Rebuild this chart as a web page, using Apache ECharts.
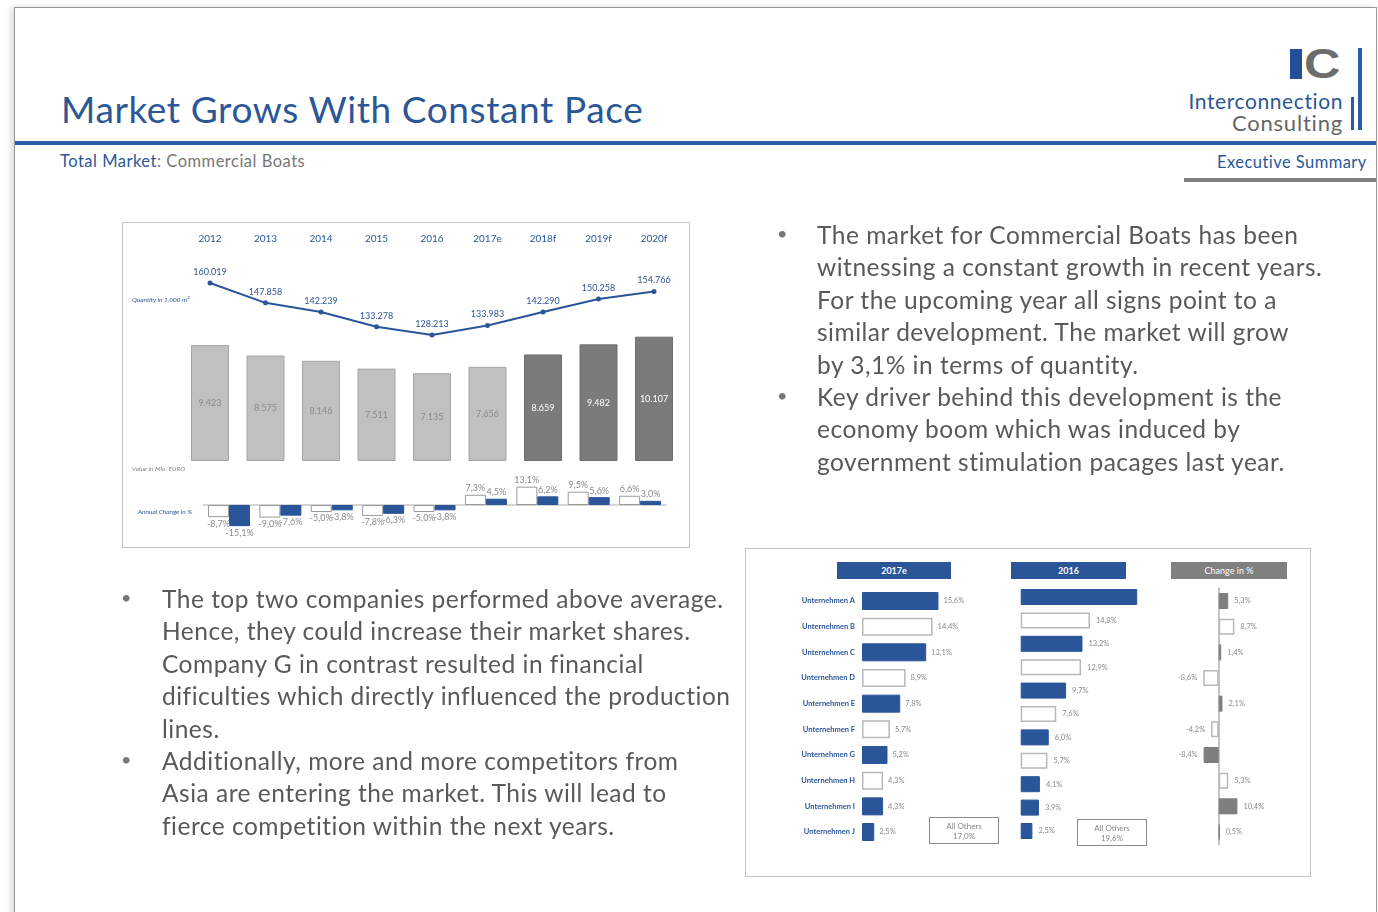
<!DOCTYPE html>
<html>
<head>
<meta charset="utf-8">
<script src="https://cdn.jsdelivr.net/npm/echarts@6/dist/echarts.min.js"></script>
<style>
html,body{margin:0;padding:0;width:1378px;height:912px;overflow:hidden;background:#fff;font-family:Lato,"Noto Sans",sans-serif;}
.abs{position:absolute;}
#chart{position:absolute;left:0;top:0;width:1378px;height:912px;}
.txt{position:absolute;white-space:nowrap;}
.bl{position:absolute;white-space:nowrap;color:#595959;font-size:24.5px;letter-spacing:0.5px;line-height:32.4px;}
.bl div{height:32.4px;}
.dot{position:absolute;color:#777;font-size:18px;}
.hdr{position:absolute;height:17px;line-height:17px;color:#fff;font-size:9px;font-weight:bold;text-align:center;}
.oth{position:absolute;border:1.5px solid #8a8a8a;box-sizing:border-box;color:#888;font-size:8px;text-align:center;line-height:10px;padding-top:3px;}
.note{position:absolute;font-style:italic;font-size:6.5px;white-space:nowrap;}
</style>
</head>
<body>
<!-- slide frame -->
<div class="abs" style="left:14px;top:7px;width:1361px;height:920px;border:1.5px solid #9a9a9a;box-shadow:-3px 0 6px rgba(0,0,0,0.15);"></div>
<!-- header -->
<div class="txt" style="left:61px;top:86px;font-size:37px;color:#2b5797;letter-spacing:0.6px;">Market Grows With Constant Pace</div>
<div class="abs" style="left:15px;top:141px;width:1361px;height:4px;background:#2b5ca6;"></div>
<div class="txt" style="left:60px;top:151px;font-size:16.5px;letter-spacing:0.5px;color:#777;"><span style="color:#2b5797;">Total Market</span>: Commercial Boats</div>
<div class="txt" style="left:1217px;top:152px;font-size:16.5px;letter-spacing:0.45px;color:#2b5797;">Executive Summary</div>
<div class="abs" style="left:1184px;top:178px;width:192px;height:4px;background:#808080;"></div>
<!-- logo -->
<div class="abs" style="left:1290px;top:49px;width:12px;height:30px;background:#244f98;"></div>
<div class="txt" style="left:1304px;top:36px;font-family:'Liberation Sans',Arial,sans-serif;font-weight:bold;font-size:42px;line-height:56px;color:#6d6d6d;transform:scaleX(1.2);transform-origin:left center;">C</div>
<div class="abs" style="left:1358px;top:48px;width:4px;height:82px;background:#2b5ca6;"></div>
<div class="abs" style="left:1351px;top:97px;width:3px;height:33px;background:#2b5ca6;"></div>
<div class="txt" style="right:35px;top:88px;font-size:21px;letter-spacing:0.6px;color:#2b5797;">Interconnection</div>
<div class="txt" style="right:35px;top:109px;font-size:22px;letter-spacing:0.8px;color:#666;">Consulting</div>

<!-- chart boxes -->
<div class="abs" style="left:122px;top:222px;width:568px;height:326px;border:1.5px solid #c4c4c4;box-sizing:border-box;"></div>
<div class="abs" style="left:745px;top:548px;width:566px;height:329px;border:1.5px solid #c4c4c4;box-sizing:border-box;"></div>

<div id="chart"></div>

<!-- chart 1 notes -->
<div class="note" style="left:132px;top:296px;color:#2b5797;">Quantity in 1.000 m²</div>
<div class="note" style="left:132px;top:465px;color:#888;">Value in Mio. EURO</div>
<div class="note" style="left:138px;top:508px;color:#2b5797;">Annual Change in %</div>

<!-- chart 2 headers -->
<div class="hdr" style="left:837px;top:562px;width:114px;background:#2a5599;">2017e</div>
<div class="hdr" style="left:1011px;top:562px;width:115px;background:#2a5599;">2016</div>
<div class="hdr" style="left:1171px;top:562px;width:116px;background:#808080;font-weight:normal;">Change in %</div>
<div class="oth" style="left:929px;top:817px;width:70px;height:27px;">All Others<br>17,0%</div>
<div class="oth" style="left:1077px;top:819px;width:70px;height:27px;">All Others<br>19,6%</div>

<!-- bullets right -->
<div class="dot" style="left:777px;top:222px;">•</div>
<div class="dot" style="left:777px;top:384px;">•</div>
<div class="bl" style="left:817px;top:219px;">
<div>The market for Commercial Boats has been</div>
<div>witnessing a constant growth in recent years.</div>
<div>For the upcoming year all signs point to a</div>
<div>similar development. The market will grow</div>
<div>by 3,1% in terms of quantity.</div>
<div>Key driver behind this development is the</div>
<div>economy boom which was induced by</div>
<div>government stimulation pacages last year.</div>
</div>
<!-- bullets left -->
<div class="dot" style="left:121px;top:586px;">•</div>
<div class="dot" style="left:121px;top:748px;">•</div>
<div class="bl" style="left:162px;top:583px;">
<div>The top two companies performed above average.</div>
<div>Hence, they could increase their market shares.</div>
<div>Company G in contrast resulted in financial</div>
<div>dificulties which directly influenced the production</div>
<div>lines.</div>
<div>Additionally, more and more competitors from</div>
<div>Asia are entering the market. This will lead to</div>
<div>fierce competition within the next years.</div>
</div>

<script>
// ---- Chart 1 data ----
const years = ['2012','2013','2014','2015','2016','2017e','2018f','2019f','2020f'];
const quantity = [160019,147858,142239,133278,128213,133983,142290,150258,154766];
const marketValue = [9423,8575,8146,7511,7135,7656,8659,9482,10107];
const valueChange = [-8.7,-9.0,-5.0,-7.8,-5.0,7.3,13.1,9.5,6.6];
const quantityChange = [-15.1,-7.6,-3.8,-6.3,-3.8,4.5,6.2,5.6,3.0];
const firstForecastIndex = 6;

// ---- Chart 2 data ----
const companies = ['Unternehmen A','Unternehmen B','Unternehmen C','Unternehmen D','Unternehmen E','Unternehmen F','Unternehmen G','Unternehmen H','Unternehmen I','Unternehmen J'];
const share2017 = [15.6,14.4,13.1,8.9,7.8,5.7,5.2,4.3,4.3,2.5];
const filled2017 = [true,false,true,false,true,false,true,false,true,true];
const share2016 = [24.9,14.8,13.2,12.9,9.7,7.6,6.0,5.7,4.1,3.9,2.5];
const filled2016 = [true,false,true,false,true,false,true,false,true,true,true];
const labelled2016 = [false,true,true,true,true,true,true,true,true,true,true];
const shareChange = [5.3,8.7,1.4,-8.6,2.1,-4.2,-8.4,5.3,10.4,0.5];

const BLUE = '#2a5599', GRAY_TXT = '#8a8a8a', FONT = 'Lato, "Noto Sans", sans-serif';
const thousands = v => String(v).replace(/\B(?=(\d{3})+(?!\d))/g, '.');
const comma = v => v.toFixed(1).replace('.', ',');
const pct = v => comma(v) + '%';

const chart = echarts.init(document.getElementById('chart'), null, {renderer:'canvas'});

function changeData(arr, color, border){
  return arr.map(v => ({
    value: v,
    itemStyle: {color: color, borderColor: border, borderWidth: 1},
    label: {position: v >= 0 ? 'top' : 'bottom'}
  }));
}

const g = (l,t,w,h) => ({left:l, top:t, width:w, height:h, containLabel:false, outerBoundsMode:'none'});

const option = {
  animation: false,
  textStyle: {fontFamily: FONT},
  grid: [
    g(182.25, 250.3, 499.5, 130.8),   // 0 line
    g(182.25, 325.7, 499.5, 135.3),   // 1 value bars
    g(203.3, 484, 462.5, 49),         // 2 change
    g(862, 588.15, 98, 256.7),        // 3 share 2017e
    g(1020.7, 585.3, 140.4, 257.4),   // 4 share 2016
    g(1191.7, 588.15, 54, 256.7)      // 5 change in %
  ],
  xAxis: [
    {gridIndex:0, type:'category', data:years, position:'top', boundaryGap:true,
     axisLine:{show:false}, axisTick:{show:false},
     axisLabel:{margin:7, fontSize:10, color:'#2b5797', fontFamily:FONT}},
    {gridIndex:1, type:'category', data:years, show:false},
    {gridIndex:2, type:'category', data:years, axisTick:{show:false}, axisLabel:{show:false},
     axisLine:{show:true, onZero:true, lineStyle:{color:'#c8c8c8', width:1.5}}},
    {gridIndex:3, type:'value', min:0, max:20, show:false},
    {gridIndex:4, type:'value', min:0, max:30, show:false},
    {gridIndex:5, type:'value', min:-15, max:15, show:false}
  ],
  yAxis: [
    {gridIndex:0, type:'value', min:100000, max:180000, show:false},
    {gridIndex:1, type:'value', min:0, max:11000, show:false},
    {gridIndex:2, type:'value', min:-20, max:15, show:false},
    {gridIndex:3, type:'category', data:companies, inverse:true,
     axisLine:{show:false}, axisTick:{show:false}, splitLine:{show:false},
     axisLabel:{margin:7, fontSize:7.5, fontWeight:'bold', color:'#2b5797', fontFamily:FONT}},
    {gridIndex:4, type:'category', data:share2016.map((v,i)=>'r'+i), inverse:true, show:false},
    {gridIndex:5, type:'category', data:companies, inverse:true,
     axisTick:{show:false}, axisLabel:{show:false}, splitLine:{show:false},
     axisLine:{show:true, onZero:true, lineStyle:{color:'#b0b0b0', width:1.5}}}
  ],
  series: [
    {type:'bar', xAxisIndex:1, yAxisIndex:1, barWidth:38,
     data: marketValue.map((v,i)=>({value:v,
       itemStyle: i>=firstForecastIndex ? {color:'#7b7b7b', borderColor:'#6e6e6e', borderWidth:1}
                                       : {color:'#c0c0c0', borderColor:'#a6a6a6', borderWidth:1},
       label:{color: i>=firstForecastIndex ? '#ffffff' : '#8a8a8a'}})),
     label:{show:true, position:'inside', fontSize:9, fontFamily:FONT, formatter:p=>thousands(p.value)}},
    {type:'line', xAxisIndex:0, yAxisIndex:0, data:quantity, symbol:'circle', symbolSize:5,
     lineStyle:{color:BLUE, width:2}, itemStyle:{color:BLUE}, smooth:false,
     label:{show:true, position:'top', distance:4, fontSize:9, color:'#2b5797', fontFamily:FONT,
            formatter:p=>thousands(p.value)}},
    {type:'bar', xAxisIndex:2, yAxisIndex:2, barWidth:21, barGap:'0%',
     data: changeData(valueChange, '#ffffff', '#9a9a9a'),
     label:{show:true, fontSize:9, color:GRAY_TXT, distance:2, fontFamily:FONT, formatter:p=>pct(p.value)}},
    {type:'bar', xAxisIndex:2, yAxisIndex:2, barWidth:21, barGap:'0%',
     data: changeData(quantityChange, BLUE, BLUE),
     label:{show:true, fontSize:9, color:GRAY_TXT, distance:2, fontFamily:FONT, formatter:p=>pct(p.value)}},
    {type:'bar', xAxisIndex:3, yAxisIndex:3, barWidth:18,
     data: share2017.map((v,i)=>({value:v, itemStyle: filled2017[i] ? {color:BLUE, borderColor:BLUE, borderWidth:1} : {color:'#fff', borderColor:'#b8b8b8', borderWidth:1.5}})),
     label:{show:true, position:'right', distance:5, fontSize:7.5, color:GRAY_TXT, fontFamily:FONT, formatter:p=>pct(p.value)}},
    {type:'bar', xAxisIndex:4, yAxisIndex:4, barWidth:16,
     data: share2016.map((v,i)=>({value:v, label:{show:labelled2016[i]},
       itemStyle: filled2016[i] ? {color:BLUE, borderColor:BLUE, borderWidth:1} : {color:'#fff', borderColor:'#b8b8b8', borderWidth:1.5}})),
     label:{show:true, position:'right', distance:6, fontSize:7.5, color:GRAY_TXT, fontFamily:FONT, formatter:p=>pct(p.value)}},
    {type:'bar', xAxisIndex:5, yAxisIndex:5, barWidth:16,
     data: shareChange.map((v,i)=>({value:v,
       label:{position: v>=0 ? 'right' : 'left'},
       itemStyle: filled2017[i] ? {color:'#7f7f7f', borderColor:'#7f7f7f', borderWidth:1} : {color:'#fff', borderColor:'#b8b8b8', borderWidth:1.5}})),
     label:{show:true, distance:6, fontSize:7.5, color:GRAY_TXT, fontFamily:FONT, formatter:p=>pct(p.value)}}
  ]
};
chart.setOption(option);
</script>
</body>
</html>
